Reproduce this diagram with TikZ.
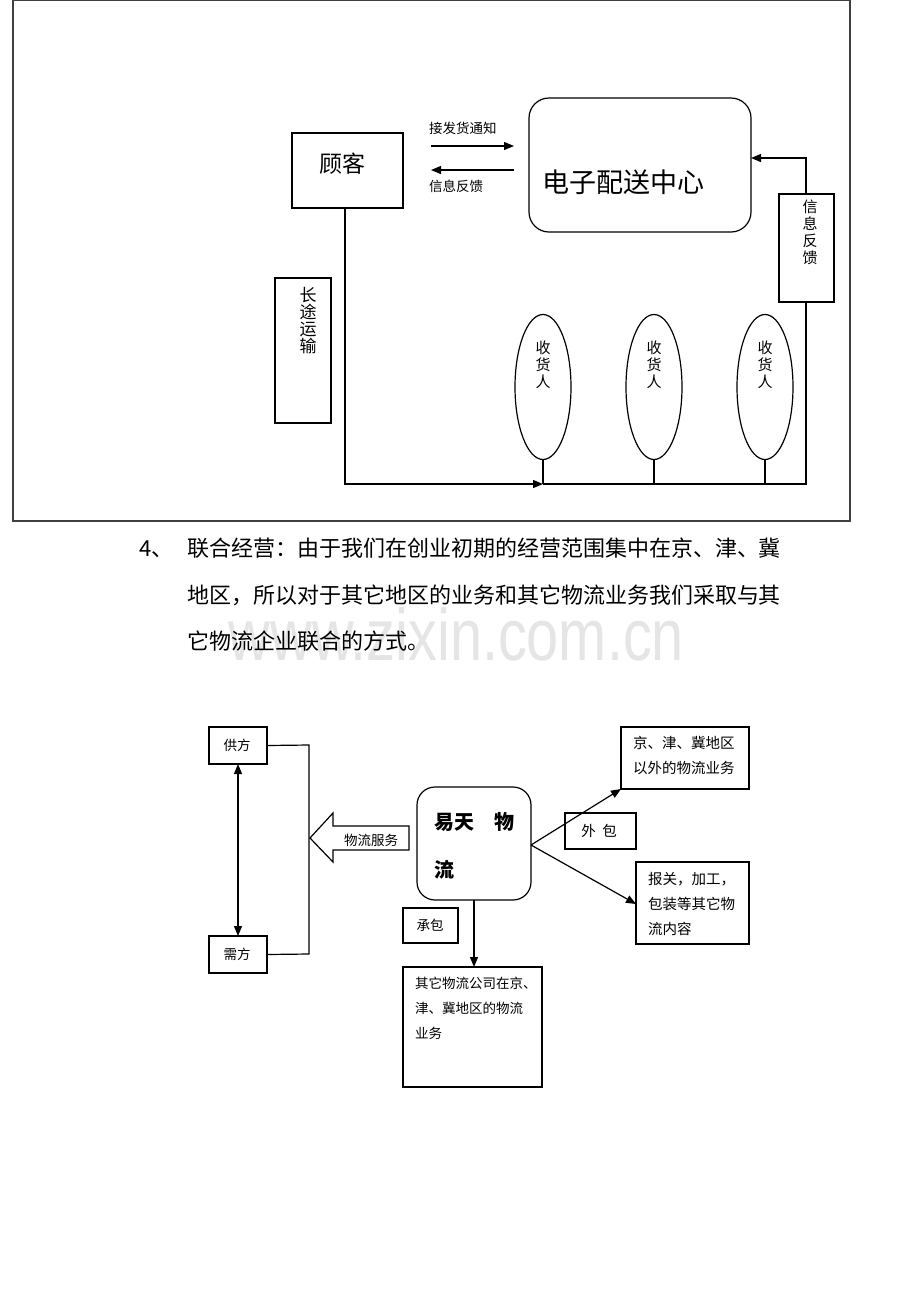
\documentclass[tikz,border=0pt]{standalone}
\usepackage{fontspec}
\setmainfont{Noto Sans CJK SC}
\newfontfamily\wmfont{Liberation Sans}
\usetikzlibrary{arrows.meta,shapes.geometric}
\begin{document}
\begin{tikzpicture}[x=1pt,y=-1pt,
  line width=1.2pt,
  every node/.style={inner sep=0pt,outer sep=0pt},
  box/.style={draw,rectangle,anchor=north west},
  tip/.style={-{Triangle[length=10pt,width=8pt]}},
  small/.style={font=\fontsize{13.5}{25}\selectfont},
  vert/.style={align=center,font=\fontsize{15}{17}\selectfont},
  para/.style={anchor=base west,font=\fontsize{22}{22}\selectfont}]
\useasboundingbox (0,0) rectangle (920,1302);
\fill[white] (0,0) rectangle (920,1302);

% watermark
\node[anchor=base east,text=black!10,font=\wmfont\fontsize{73}{73}\selectfont,xscale=0.79] (wm) at (684,660) {www.zixin.com.cn};

% ===== top frame =====
\draw[black!75] (13,0.6) rectangle (850,521);

% customer
\node[box,minimum width=111pt,minimum height=75pt] (cust) at (292,133) {};
\node[font=\fontsize{23}{23}\selectfont] (custt) at (342,164) {顾客};

% distribution centre
\node[draw,rectangle,rounded corners=20pt,anchor=north west,minimum width=222pt,minimum height=134pt] (dc) at (529,98) {};
\node[anchor=west,font=\fontsize{27}{27}\selectfont] (dct) at (542,182) {电子配送中心};

\coordinate (a1s) at (431,146); \coordinate (a1e) at (514,146);
\coordinate (a2s) at (514,170); \coordinate (a2e) at (431,170);
\draw[tip] (a1s) -- (a1e);
\draw[tip] (a2s) -- (a2e);
\node[small,anchor=south west] (l1) at (429,135) {接发货通知};
\node[small,anchor=north west] (l2) at (429,180) {信息反馈};

% long distance transport box
\node[box,minimum width=56pt,minimum height=145pt] (ldt) at (275,278) {};
\node[vert,anchor=north,font=\fontsize{17}{17}\selectfont] (ldtt) at (308,287) {长\\途\\运\\输};

% feedback box right
\node[box,minimum width=55pt,minimum height=108pt] (fb) at (779,194) {};
\node[vert,anchor=north] (fbt) at (810,200) {信\\息\\反\\馈};

% receivers
\foreach \i/\x in {1/543,2/654,3/765}{
  \node[draw,ellipse,minimum width=56pt,minimum height=145pt] (r\i) at (\x,387) {};
  \node[vert,anchor=north] (rt\i) at (\x,341) {收\\货\\人};
  \coordinate (rb\i) at (\x,484);
  \draw (r\i.south) -- (rb\i);
}
\coordinate (c1) at (345,484);
\coordinate (c2) at (806,484);
\coordinate (c3) at (806,158);
\coordinate (c4) at (751,158);
\draw[tip] (cust.south -| c1) -- (c1) -- (rb1);
\draw (rb1) -- (c2) -- (fb.south -| c2);
\draw[tip] (fb.north -| c3) -- (c3) -- (c4);

% ===== paragraph =====
\node[para] (p0) at (139,556) {4、};
\node[para] (p1) at (187,556) {联合经营：由于我们在创业初期的经营范围集中在京、津、冀};
\node[para] (p2) at (187,603) {地区，所以对于其它地区的业务和其它物流业务我们采取与其};
\node[para] (p3) at (187,649) {它物流企业联合的方式。};

% ===== bottom diagram =====
\node[box,minimum width=58pt,minimum height=37pt] (gf) at (209,727) {};
\node[small] (gft) at (237,745) {供方};
\node[box,minimum width=58pt,minimum height=37pt] (xf) at (209,936) {};
\node[small] (xft) at (237,954) {需方};
\draw[{Triangle[length=10pt,width=8pt]}-{Triangle[length=10pt,width=8pt]}] (238,764) -- (238,936);
\coordinate (b1) at (309,745); \coordinate (b2) at (309,954);
\draw (gf.east) -- (b1) -- (b2) -- (xf.east);

% hollow arrow
\draw (310,838) -- (333,813) -- (333,826) -- (409,826) -- (409,850) -- (333,850) -- (333,862) -- cycle;
\node[small] (svc) at (371,840) {物流服务};

% central node
\node[draw,rectangle,rounded corners=18pt,anchor=north west,minimum width=114pt,minimum height=113pt] (yt) at (417,787) {};
\node[anchor=west,font=\bfseries\fontsize{20}{20}\selectfont] (ytt1) at (434,822) {易天　物};
\node[anchor=west,font=\bfseries\fontsize{20}{20}\selectfont] (ytt2) at (434,870) {流};

% contract
\node[box,minimum width=55pt,minimum height=35pt] (cb) at (403,908) {};
\node[small] (cbt) at (430,925) {承包};
\node[box,minimum width=139pt,minimum height=120pt] (ob) at (403,967) {};
\node[small,anchor=north west,align=left] (obt) at (415,977) {其它物流公司在京、\\津、冀地区的物流\\业务};
\draw[tip] (474,900) -- (ob.north -| 474,0);

% outsourcing
\node[box,minimum width=128pt,minimum height=62pt] (ur) at (621,727) {};
\node[small,anchor=north west,align=left,font=\fontsize{14.5}{25}\selectfont] (urt) at (633,736) {京、津、冀地区\\以外的物流业务};
\node[box,minimum width=113pt,minimum height=82pt] (lr) at (636,862) {};
\node[small,anchor=north west,align=left,font=\fontsize{14.5}{25}\selectfont] (lrt) at (648,872) {报关，加工，\\包装等其它物\\流内容};
\node[box,minimum width=71pt,minimum height=36pt] (wb) at (565,813) {};
\node[small,font=\fontsize{14.5}{25}\selectfont] (wbt) at (599,831) {外\ \ 包};
\coordinate (yr) at (531,845);
\draw[tip] (yr) -- (ur.south west);
\draw[tip] (yr) -- (lr.west |- 0,904);
\end{tikzpicture}
\end{document}
